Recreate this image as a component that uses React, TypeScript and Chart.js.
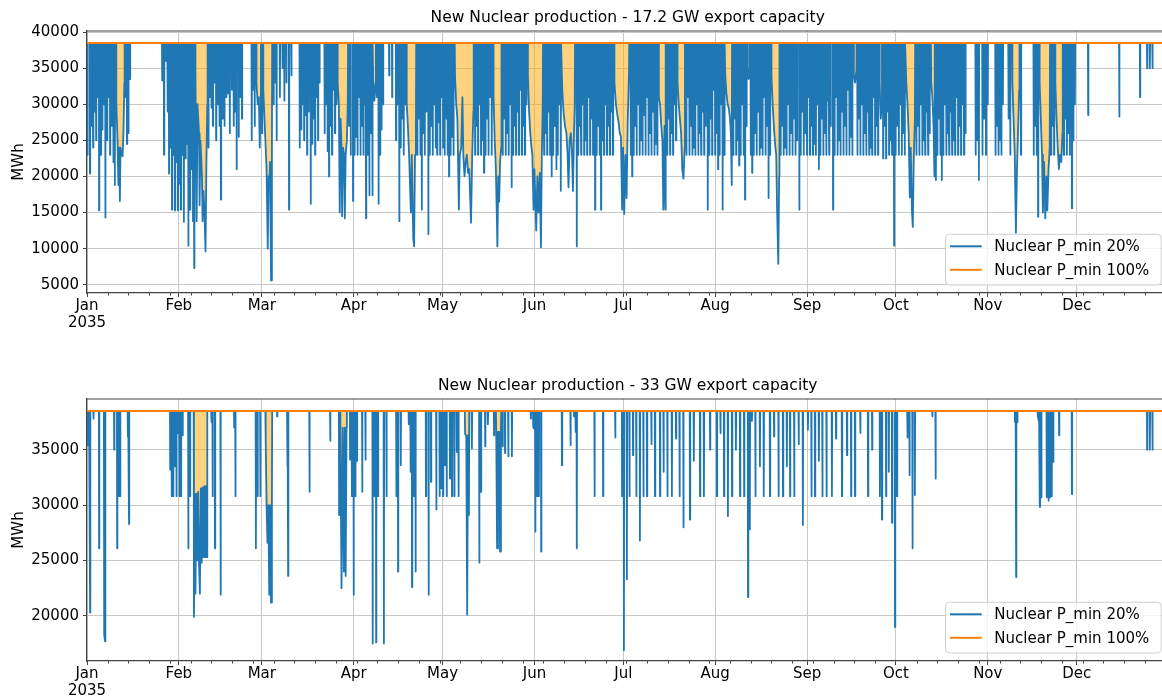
import React, { useEffect, useRef } from 'react';
import { Chart, registerables } from 'chart.js';

Chart.register(...registerables);

const FONT = '"DejaVu Sans", "Liberation Sans", sans-serif';

// ---- axis data ----
const monthDays = [0, 31, 59, 90, 120, 151, 181, 212, 243, 273, 304, 334];
const monthLabels = ['Jan', 'Feb', 'Mar', 'Apr', 'May', 'Jun', 'Jul', 'Aug', 'Sep', 'Oct', 'Nov', 'Dec'];
const yearLabel = '2035';
const X_MAX = 364.958; // Dec 31, 23:00 (days since Jan 1)
const topYTicks = [5000, 10000, 15000, 20000, 25000, 30000, 35000, 40000];
const bottomYTicks = [20000, 25000, 30000, 35000];

// ---- series data ----
const seriesLabels = ['Nuclear P_min 20%', 'Nuclear P_min 100%'];
// Nuclear P_min 100% : flat production level (MWh)
const p100Days = [0, X_MAX];
const p100Values = [38500, 38500];
const BASE = 38500;

// Nuclear P_min 20%: dips below the flat level, [day, MWh] or [day, MWh, day, MWh, ...]
const topDips: number[][] = [
  [0.2, 23000], [1.0, 20400], [1.6, 27000], [2.1, 24000], [2.6, 29000], [3.1, 25000], [3.6, 31000], [4.1, 15300], [4.7, 23000], [5.2, 26500], [5.7, 30000], [6.2, 14300], [6.8, 25000], [7.3, 31000], [7.8, 23000], [8.4, 27000], [8.9, 22000], [9.4, 18800],
  [9.9, 30000, 10.3, 25000, 10.6, 18800, 10.9, 24000, 11.1, 16600, 11.3, 24000, 11.7, 23000, 12.0, 22800, 12.3, 26000, 12.6, 33000],
  [13.0, 31000], [13.5, 24500], [14.0, 26000], [14.5, 33500],
  [25.4, 33300], [26.0, 23000], [26.6, 36000], [27.2, 29000], [27.7, 20400], [28.2, 24000], [28.7, 15400], [29.2, 23000], [29.7, 15300], [30.2, 22000], [30.7, 15300], [31.2, 19000],
  [31.7, 15400], [32.2, 23000], [32.7, 13700], [33.3, 22500], [33.8, 24500], [34.2, 10400], [34.8, 15400], [35.3, 21000], [35.8, 13800], [36.2, 7300],
  [36.6, 34000, 37.0, 13800, 37.3, 30000, 37.8, 26000, 38.0, 16000, 38.3, 25000, 38.8, 20000, 39.0, 13800, 39.3, 18000, 39.6, 15500, 40.0, 9600, 40.3, 22000, 40.6, 30000],
  [41.0, 24000], [41.5, 31000], [42.0, 29500], [42.5, 27000], [43.0, 33000], [43.6, 25000], [44.2, 30000], [44.7, 27000], [45.2, 16800], [45.8, 28000], [46.4, 27000], [47.0, 31000], [47.6, 31500], [48.2, 26000], [48.9, 32000], [49.5, 27000], [50.0, 29000], [50.5, 21000], [51.2, 25500], [51.8, 31000], [52.3, 28000],
  [55.6, 25000], [56.1, 32000], [56.6, 27000],
  [57.2, 33000, 57.6, 30000, 58.0, 31000, 58.3, 24000, 58.6, 30000],
  [59.1, 26000],
  [59.5, 32000, 59.9, 28000, 60.3, 24000, 60.6, 21000, 61.0, 10000, 61.3, 20000, 61.6, 19700, 61.8, 22000, 62.1, 5600, 62.4, 23000],
  [63.0, 30000], [63.5, 33000], [64.0, 25000], [65.1, 31000], [66.0, 35000], [66.6, 30500], [67.3, 33000], [68.2, 15400], [69.0, 34000],
  [71.8, 24000], [72.3, 26500], [72.8, 30000], [73.3, 25000], [73.8, 28500], [74.3, 23000], [74.8, 29000], [75.5, 16200], [76.0, 24500], [76.5, 28000], [77.0, 23000], [77.5, 31000], [78.0, 25000], [78.5, 33000],
  [80.2, 26000], [80.7, 30000], [81.2, 23500], [81.7, 20000], [82.2, 27000], [82.7, 23000], [83.2, 32000], [83.7, 26000], [84.2, 30000],
  [84.6, 33000, 85.0, 30000, 85.3, 15000, 85.6, 28000, 85.9, 24000, 86.1, 14500, 86.4, 24000, 86.8, 23000, 87.0, 14200, 87.3, 23000, 87.7, 25000, 88.0, 30000],
  [88.5, 27000], [89.0, 23000], [89.8, 16600], [90.3, 23000], [90.8, 25500],
  [91.3, 23000], [91.8, 31000], [92.3, 23000], [92.8, 27000], [93.3, 23000], [93.8, 30000], [94.2, 14200], [94.7, 23000],
  [95.3, 17400], [95.8, 26000], [96.3, 17400],
  [96.6, 33000, 97.0, 30500, 97.4, 33000],
  [97.8, 31000], [98.4, 16200], [98.9, 23000], [99.4, 26500], [99.9, 30000],
  [102.0, 34000], [103.0, 31000],
  [104.3, 25000], [104.8, 30000], [105.4, 13800], [105.9, 24000], [106.4, 28000], [106.9, 23000], [107.4, 30000],
  [107.9, 30000, 108.3, 27000, 108.7, 23000, 109.0, 23000, 109.3, 15000, 109.6, 23000, 110.1, 11500, 110.4, 10300, 110.7, 23000, 111.0, 26000],
  [111.5, 23000], [112.0, 28000], [112.5, 23000], [113.0, 15400], [113.5, 26000], [114.0, 23000], [114.5, 29000], [115.2, 12000], [115.7, 23000], [116.2, 27000], [116.7, 23000], [117.2, 30000], [117.7, 24000], [118.2, 23000], [118.7, 27500], [119.2, 23000], [119.7, 31000],
  [120.2, 24000], [120.7, 23000], [121.2, 28000], [121.7, 23000], [122.2, 20000], [122.7, 23000], [123.2, 25500], [123.7, 23000],
  [124.2, 34000, 124.6, 30000, 125.0, 28000, 125.5, 15400, 125.8, 23000, 126.3, 24000, 126.7, 31000, 127.0, 23000, 127.4, 20000, 127.8, 22000, 128.2, 23000, 128.6, 20500, 129.0, 21000, 129.6, 13600, 130.0, 23000, 130.4, 29000],
  [131.0, 23000], [131.5, 27000], [132.0, 23000], [132.5, 30000], [133.0, 23000], [133.5, 25000], [134.0, 20500], [134.5, 23000], [135.0, 28000], [135.5, 23000], [136.0, 31000], [136.6, 23000],
  [137.2, 31000, 137.6, 25000, 138.0, 21000, 138.5, 10300, 138.8, 20000, 139.1, 16500, 139.4, 22000, 139.8, 24000],
  [140.3, 23000], [140.8, 28000], [141.3, 23000], [141.8, 26000], [142.3, 23000], [142.8, 30000], [143.3, 18500], [143.8, 23000], [144.3, 27000], [144.8, 23000], [145.3, 29000], [145.8, 23000], [146.3, 32000], [146.8, 23000], [147.3, 27000], [147.8, 23000], [148.3, 30000],
  [148.8, 34000, 149.2, 29000, 149.6, 26000, 150.0, 24000, 150.3, 23000, 150.7, 15400, 151.0, 21000, 151.6, 12500, 152.0, 20000, 152.4, 15000, 152.8, 20500, 153.2, 10200, 153.5, 23000, 153.8, 30000],
  [154.3, 23000], [154.8, 26000], [155.3, 23000], [155.8, 29000], [156.3, 23000], [156.8, 20000], [157.3, 23000], [157.8, 27000], [158.4, 21000], [158.9, 23000], [159.4, 30000], [159.9, 18000],
  [160.4, 32000, 160.8, 29000, 161.3, 27000, 161.8, 26000, 162.2, 23000, 162.5, 18500, 162.9, 25000, 163.3, 26000, 163.7, 23000, 164.0, 18000, 164.3, 25000, 164.6, 30000],
  [165.3, 10300], [165.8, 23000], [166.3, 27000], [166.8, 23000], [167.3, 30000], [167.8, 23000], [168.3, 25000], [168.8, 23000], [169.3, 31000], [169.8, 23000], [170.3, 28000], [170.8, 23000], [171.5, 15400], [172.0, 23000], [172.5, 27000], [173.0, 23000], [173.5, 15400], [174.0, 25000], [174.5, 23000], [175.0, 30000], [175.5, 23000], [176.0, 27000], [176.5, 23000], [177.0, 29000], [177.5, 23000],
  [178.0, 33000, 178.5, 30000, 179.0, 28500, 179.4, 27500, 179.8, 26000, 180.2, 25500, 180.6, 15400, 180.9, 24000, 181.3, 14800, 181.7, 23000, 182.1, 17000, 182.5, 28000, 182.9, 34000],
  [183.5, 23000], [184.0, 20000], [184.5, 23000], [185.0, 27000], [185.5, 23000], [186.0, 30000], [186.5, 23000], [187.0, 25000], [187.5, 23000], [188.0, 28500], [188.5, 23000], [189.0, 31000], [189.5, 23000], [190.0, 26000], [190.5, 23000], [191.0, 29000], [191.5, 23000], [192.0, 24500], [192.5, 23000],
  [193.0, 31000, 193.4, 30000, 193.8, 27000, 194.2, 25000, 194.5, 15400, 194.9, 27000, 195.2, 15400],
  [195.8, 23000], [196.3, 28000], [196.8, 23000], [197.3, 26000], [197.8, 23000], [198.3, 30000], [198.8, 25000],
  [199.3, 33000, 199.7, 30000, 200.1, 28000, 200.5, 26000, 200.9, 21000, 201.3, 19700, 201.7, 24000],
  [202.3, 23000], [202.8, 31000], [203.3, 23000], [203.8, 27000], [204.3, 23000], [204.8, 24000], [205.3, 23000], [205.8, 30000], [206.3, 23000], [206.8, 26000], [207.3, 23000], [207.8, 29000], [208.3, 23000], [208.8, 27000], [209.5, 15400], [210.0, 23000], [210.5, 28000], [211.0, 23000], [211.5, 32000],
  [212.0, 23000], [212.5, 26000], [213.0, 21000], [213.5, 23000], [214.0, 30000], [214.5, 15400], [215.0, 23000],
  [215.4, 34000, 215.8, 31500, 216.2, 30000, 216.6, 29500, 217.0, 28000, 217.3, 26000, 217.6, 18800],
  [218.1, 23000], [218.6, 28000], [219.1, 23000], [219.6, 25000], [220.1, 21500], [220.6, 23000], [221.1, 30000], [221.6, 23000], [222.1, 16800], [222.6, 27000],
  [223.0, 34000, 223.3, 33500, 223.6, 35000],
  [224.0, 23000], [224.5, 20500], [225.0, 23000], [225.5, 26000], [226.0, 23000], [226.5, 29000], [227.0, 23000], [227.5, 24000], [228.0, 23000], [228.5, 31000], [229.0, 23000], [229.5, 27000], [230.0, 17000], [230.5, 23000],
  [231.0, 34000, 231.4, 30000, 231.8, 27000, 232.2, 24500, 232.6, 23000, 232.9, 15400, 233.3, 7900, 233.6, 20000],
  [234.1, 23000], [234.6, 27000], [235.1, 23000], [235.6, 24000], [236.1, 23000], [236.6, 30000], [237.1, 23000], [237.6, 26000], [238.1, 23000], [238.6, 28000], [239.1, 23000], [239.6, 25000], [240.4, 15400], [240.9, 23000], [241.4, 29000], [241.9, 23000], [242.4, 26000],
  [243.0, 23000], [243.5, 31000], [244.0, 23000], [244.5, 27000], [245.0, 23000], [245.5, 24500], [246.0, 23000], [246.5, 30000], [247.0, 21000], [247.5, 23000], [248.0, 28000], [248.5, 23000], [249.0, 26000], [249.5, 23000], [250.0, 30500], [250.5, 23000], [251.0, 27000], [251.8, 15400], [252.3, 23000], [252.8, 31000], [253.3, 23000], [253.8, 25000], [254.3, 23000], [254.8, 29000], [255.3, 23000], [255.8, 27000], [256.3, 23000], [256.8, 32000], [257.3, 23000], [257.8, 25500], [258.3, 23000],
  [258.8, 34000, 259.2, 33000, 259.6, 34500],
  [260.0, 23000], [260.5, 28000], [261.0, 23000], [261.5, 30000], [262.0, 23000], [262.5, 26000], [263.0, 23000], [263.5, 29000], [264.0, 23000], [264.5, 24000], [265.0, 23000], [265.5, 31000], [266.0, 23000], [266.5, 27000], [267.0, 23000],
  [267.5, 33000, 267.9, 28000, 268.2, 30000],
  [268.7, 22500], [269.2, 27000], [269.7, 22500], [270.2, 29000], [270.7, 23000], [271.2, 25000], [271.7, 23000], [272.4, 10400], [272.9, 23000],
  [273.5, 27000], [274.0, 23000], [274.5, 30000], [275.0, 23000], [275.5, 26000], [276.0, 23000],
  [276.5, 33000, 276.9, 30000, 277.3, 26000, 277.7, 17100, 278.0, 24000, 278.4, 15300, 278.7, 13000, 279.0, 22000, 279.4, 28000],
  [279.9, 23000], [280.4, 27000], [280.9, 23000], [281.4, 30000], [281.9, 23000], [282.4, 25000], [282.9, 23000], [283.4, 29000], [283.9, 23000], [284.4, 26000],
  [284.9, 33000, 285.3, 31000, 285.7, 27000, 286.0, 20000],
  [286.5, 19500], [287.0, 23000], [287.5, 28000], [288.0, 23000], [288.5, 19500], [289.0, 23000], [289.5, 30000], [290.0, 23000], [290.5, 26000], [291.0, 23000], [291.5, 29000], [292.0, 23000], [292.5, 25000], [293.0, 23000], [293.5, 31000], [294.0, 23000], [294.5, 27000], [295.0, 23000], [295.5, 30000], [296.0, 23000], [296.5, 26000],
  [299.9, 23000], [300.5, 25000], [301.0, 19500], [302.2, 23000], [302.8, 28000], [303.4, 23000], [304.0, 30000],
  [306.6, 23000], [307.1, 27000], [307.6, 23000], [308.1, 25000], [308.6, 23000], [309.1, 30000],
  [311.0, 28000], [311.6, 23000],
  [312.3, 33000, 312.7, 28000, 313.1, 23000, 313.5, 12200, 313.8, 20000, 314.2, 26000, 314.6, 32000],
  [315.2, 23000],
  [319.5, 23000], [320.0, 27000], [320.5, 23000], [321.0, 14400],
  [321.5, 33000, 321.9, 28000, 322.3, 23000, 322.6, 15000, 323.0, 22000, 323.4, 14200, 323.8, 20000, 324.1, 15300, 324.5, 21000, 324.9, 24000],
  [325.4, 23000], [325.9, 27000], [326.4, 23000],
  [326.8, 33000, 327.2, 28000, 327.6, 24000, 328.0, 21000, 328.4, 23000, 328.8, 22000, 329.2, 26000],
  [329.7, 23000], [330.2, 28000], [330.7, 23000], [331.2, 26000], [331.7, 23000], [332.4, 15600], [332.9, 25000], [333.4, 30000],
  [337.9, 28500], [348.4, 28300], [355.4, 31000], [357.8, 35000], [358.7, 35000], [359.6, 35000],
];

const bottomDips: number[][] = [
  [0.2, 35400], [0.6, 35600], [1.07, 20300], [2.2, 37800], [4.1, 26100], [5.8, 18300, 6.1, 17700], [9.2, 35000], [10.2, 26100], [10.8, 30800], [11.2, 30800], [13.8, 36200], [14.2, 28300],
  [28.1, 33200], [28.6, 30800], [29.1, 30800], [29.6, 33500], [30.2, 30800], [30.7, 36500], [31.2, 30800], [31.7, 30800], [32.3, 36300], [34.2, 26100], [34.8, 30800],
  [36.1, 19900, 36.4, 31000, 36.6, 22000, 36.9, 31000, 37.2, 25000, 37.5, 31200, 37.8, 24800, 38.1, 22000, 38.4, 31500, 38.7, 24800, 39.0, 31600, 39.3, 25300, 39.6, 31700, 39.9, 25300, 40.2, 31700, 40.5, 25300],
  [42.0, 37500], [42.4, 30800], [43.2, 26100], [45.1, 21900], [49.7, 37000], [50.1, 30800],
  [57.0, 26100], [57.6, 30800], [58.5, 30800],
  [60.3, 36000, 60.6, 30000, 60.9, 26600, 61.2, 30000, 61.5, 21900, 61.8, 30000, 62.1, 21200, 62.4, 30000],
  [64.2, 38000], [67.6, 33500], [67.9, 23600], [75.1, 31200], [82.1, 35800],
  [85.1, 29100], [85.5, 37000, 85.9, 22500, 86.3, 37000, 86.7, 24000, 87.0, 37000, 87.3, 23600, 87.6, 37000],
  [88.8, 34100], [89.4, 30800], [90.0, 21900], [90.6, 30800], [91.1, 34000], [92.9, 31200], [94.0, 34100],
  [96.4, 17500], [97.0, 30800], [97.6, 17600], [98.2, 30800], [100.2, 17500], [101.1, 30800],
  [104.4, 30800], [105.0, 24000], [105.9, 33600], [108.6, 37300], [109.2, 33000], [109.7, 22600], [110.4, 30800], [110.9, 24000],
  [114.4, 30800], [115.3, 21900], [116.1, 32100], [117.9, 29600], [119.0, 30800], [119.6, 31500], [120.2, 30800], [120.8, 33600], [121.4, 30800],
  [122.5, 32400], [123.2, 30800], [124.0, 30800], [124.8, 34800], [125.4, 30800],
  [127.6, 36400, 128.0, 36300, 128.3, 20100, 128.6, 36300, 128.9, 29100],
  [129.9, 35100], [132.4, 24800], [133.0, 31200], [134.4, 35300], [135.3, 37300], [137.4, 36300],
  [138.1, 36700, 138.4, 26100, 138.7, 36600, 139.1, 36600, 139.4, 25800, 139.7, 36600],
  [140.3, 35300], [141.1, 34700], [142.2, 34400], [143.4, 34400],
  [149.8, 37800], [150.6, 37000, 150.9, 36900], [151.3, 27600], [151.9, 30800], [152.5, 30800], [153.3, 25800],
  [160.3, 33600], [163.2, 35400], [164.4, 38000], [164.9, 36600], [165.3, 26100],
  [171.3, 30800], [174.2, 30800], [178.3, 36100], [180.6, 30800], [181.2, 16900],
  [182.2, 23300], [183.1, 30800], [184.3, 34500], [185.4, 30800], [186.6, 26800], [187.8, 30800], [189.0, 30800], [190.5, 35500], [191.7, 30800], [193.4, 30800], [194.6, 33000], [195.9, 30800], [197.4, 30800], [198.8, 36000], [200.0, 30800], [201.3, 28000], [203.5, 28700], [204.8, 34000], [206.9, 30800], [208.2, 30800], [210.3, 35000],
  [212.6, 30800], [213.8, 36500], [215.0, 30800], [216.3, 29000], [217.7, 30800], [219.0, 35000], [220.4, 30800], [221.8, 30800], [223.1, 21700], [223.7, 27800], [224.1, 37700, 224.4, 37600], [225.6, 30800], [227.1, 33500], [228.4, 30800], [230.5, 30800], [231.9, 36200], [233.4, 30800], [234.9, 30800], [236.2, 33500], [237.3, 30800], [238.7, 30800], [240.2, 35500], [241.6, 28200],
  [243.3, 36800], [244.5, 30800], [245.7, 30800], [247.0, 34000], [248.2, 30800], [249.6, 30800], [251.4, 30800], [252.8, 36000], [254.8, 30800], [256.5, 34500], [257.9, 30800], [259.2, 30800], [261.0, 36500], [263.6, 30800], [265.0, 35000], [267.6, 30800], [268.3, 28700], [269.7, 30800], [270.6, 33000], [271.7, 28400], [272.7, 19000], [273.4, 30800],
  [276.9, 36100], [277.6, 32700], [278.6, 26100], [279.4, 30900], [285.3, 38000], [286.4, 32400],
  [313.2, 37500], [313.6, 23500], [314.0, 37500],
  [320.9, 38000, 321.2, 37600], [321.6, 29850], [322.1, 30700], [323.9, 30700], [324.5, 30400], [325.1, 30700], [325.6, 30800], [326.1, 33900], [328.1, 36300], [332.4, 31000],
  [357.8, 35000], [358.7, 35000], [359.6, 35000],
];

// ---- layout / style ----
const CANVAS_W = 1200;
const PLOT_LEFT = 87;
const PLOT_RIGHT = 1168.4;
const BLUE = '#1f77b4';
const ORANGE = '#ff7f0e';
const FILL = 'rgba(255,165,0,0.5)';
const GRID = '#c8c8c8';
const SPINE = '#444444';

type PanelCfg = {
  title: string;
  dips: number[][];
  yMin: number;
  yMax: number;
  yTicks: number[];
  canvasH: number;
  plotTop: number;
  plotBottom: number;
  titleY: number;
};

const topPanel: PanelCfg = {
  title: 'New Nuclear production - 17.2 GW export capacity',
  dips: topDips,
  yMin: 3850,
  yMax: 40150,
  yTicks: topYTicks,
  canvasH: 360,
  plotTop: 31,
  plotBottom: 293,
  titleY: 18,
};

const bottomPanel: PanelCfg = {
  title: 'New Nuclear production - 33 GW export capacity',
  dips: bottomDips,
  yMin: 15925,
  yMax: 39575,
  yTicks: bottomYTicks,
  canvasH: 340,
  plotTop: 39,
  plotBottom: 301,
  titleY: 26,
};

function buildSeries(dips: number[][]) {
  const pts: { x: number; y: number }[] = [{ x: 0, y: BASE }];
  for (const e of dips) {
    if (e.length === 2) {
      const [d, v] = e;
      pts.push({ x: d - 0.09, y: BASE }, { x: d - 0.025, y: v }, { x: d + 0.025, y: v }, { x: d + 0.09, y: BASE });
    } else {
      pts.push({ x: e[0] - 0.1, y: BASE });
      for (let i = 0; i < e.length; i += 2) pts.push({ x: e[i], y: e[i + 1] });
      pts.push({ x: e[e.length - 2] + 0.1, y: BASE });
    }
  }
  pts.push({ x: X_MAX, y: BASE });
  pts.sort((a, b) => a.x - b.x);
  return pts;
}

function makeDecor(panel: PanelCfg) {
  return {
    id: 'decor',
    afterDraw(chart: any) {
      const { ctx, chartArea: a } = chart;
      const xs = chart.scales.x;
      ctx.save();
      // top spine
      ctx.strokeStyle = SPINE;
      ctx.lineWidth = 1.2;
      ctx.beginPath();
      ctx.moveTo(a.left, a.top);
      ctx.lineTo(a.right, a.top);
      ctx.stroke();
      // weekly minor ticks
      ctx.lineWidth = 1;
      ctx.beginPath();
      for (let d = 7; d < X_MAX; d += 7) {
        if (monthDays.includes(d)) continue;
        const x = Math.round(xs.getPixelForValue(d)) + 0.5;
        ctx.moveTo(x, a.bottom);
        ctx.lineTo(x, a.bottom + 2.5);
      }
      ctx.stroke();
      // title
      ctx.fillStyle = '#000';
      ctx.font = `15.5px ${FONT}`;
      ctx.textAlign = 'center';
      ctx.textBaseline = 'middle';
      ctx.fillText(panel.title, (a.left + a.right) / 2, panel.titleY);
      // legend
      const w = 215.7;
      const h = 50.7;
      const bx = a.right - 7.7 - w;
      const by = a.bottom - 8.5 - h;
      ctx.beginPath();
      (ctx as any).roundRect(bx + 0.5, by + 0.5, w, h, 4);
      ctx.fillStyle = 'rgba(255,255,255,0.8)';
      ctx.fill();
      ctx.strokeStyle = '#d0d0d0';
      ctx.lineWidth = 1;
      ctx.stroke();
      const rows = [by + 12.5, by + 36];
      const cols = [BLUE, ORANGE];
      ctx.font = `15px ${FONT}`;
      ctx.textAlign = 'left';
      for (let i = 0; i < 2; i++) {
        ctx.strokeStyle = cols[i];
        ctx.lineWidth = 2;
        ctx.beginPath();
        ctx.moveTo(bx + 5, rows[i]);
        ctx.lineTo(bx + 36.7, rows[i]);
        ctx.stroke();
        ctx.fillStyle = '#000';
        ctx.fillText(seriesLabels[i], bx + 49.3, rows[i] + 1);
      }
      ctx.restore();
    },
  };
}

function PanelChart({ panel }: { panel: PanelCfg }) {
  const ref = useRef<HTMLCanvasElement>(null);
  useEffect(() => {
    const canvas = ref.current;
    if (!canvas) return;
    const p100 = p100Days.map((d, i) => ({ x: d, y: p100Values[i] }));
    const chart = new Chart(canvas, {
      type: 'line',
      data: {
        datasets: [
          {
            label: seriesLabels[0],
            data: buildSeries(panel.dips),
            borderColor: BLUE,
            borderWidth: 1.8,
            pointRadius: 0,
            tension: 0,
            borderJoinStyle: 'round',
            fill: { value: BASE },
            backgroundColor: FILL,
            order: 1,
          } as any,
          {
            label: seriesLabels[1],
            data: p100,
            borderColor: ORANGE,
            borderWidth: 2,
            pointRadius: 0,
            tension: 0,
            fill: false,
            order: 0,
          } as any,
        ],
      },
      options: {
        responsive: false,
        animation: false,
        devicePixelRatio: 1,
        events: [],
        layout: { padding: { left: 0, top: panel.plotTop, right: CANVAS_W - PLOT_RIGHT, bottom: 0 } },
        plugins: { legend: { display: false }, tooltip: { enabled: false }, title: { display: false } },
        scales: {
          x: {
            type: 'linear',
            min: 0,
            max: X_MAX,
            afterBuildTicks: (s: any) => {
              s.ticks = monthDays.map((v) => ({ value: v }));
            },
            afterFit: (s: any) => {
              s.height = panel.canvasH - panel.plotBottom;
            },
            ticks: {
              autoSkip: false,
              maxRotation: 0,
              minRotation: 0,
              padding: 1,
              color: '#000',
              font: { family: FONT, size: 15, lineHeight: 1.12 },
              callback: (_v: any, i: number) => (i === 0 ? [monthLabels[0], yearLabel] : monthLabels[i]),
            },
            grid: { color: GRID, lineWidth: 1, tickColor: SPINE, tickLength: 4, drawTicks: true },
            border: { display: true, color: SPINE, width: 1.2 },
          },
          y: {
            type: 'linear',
            min: panel.yMin,
            max: panel.yMax,
            afterBuildTicks: (s: any) => {
              s.ticks = panel.yTicks.map((v) => ({ value: v }));
            },
            afterFit: (s: any) => {
              s.width = PLOT_LEFT;
            },
            ticks: {
              padding: 4,
              color: '#000',
              font: { family: FONT, size: 15 },
              callback: (v: any) => String(v),
            },
            grid: { color: GRID, lineWidth: 1, tickColor: SPINE, tickLength: 4, drawTicks: true },
            border: { display: true, color: SPINE, width: 1.2 },
            title: {
              display: true,
              text: 'MWh',
              color: '#000',
              font: { family: FONT, size: 15 },
              padding: { top: 10, bottom: 0 },
            },
          },
        },
      } as any,
      plugins: [makeDecor(panel)],
    });
    return () => chart.destroy();
  }, [panel]);
  return (
    <canvas
      ref={ref}
      width={CANVAS_W}
      height={panel.canvasH}
      style={{ display: 'block', width: CANVAS_W, height: panel.canvasH }}
    />
  );
}

export default function App() {
  return (
    <div
      style={{
        position: 'fixed',
        left: 0,
        top: 0,
        width: 1162,
        height: 700,
        overflow: 'hidden',
        background: '#ffffff',
      }}
    >
      <PanelChart panel={topPanel} />
      <PanelChart panel={bottomPanel} />
    </div>
  );
}
